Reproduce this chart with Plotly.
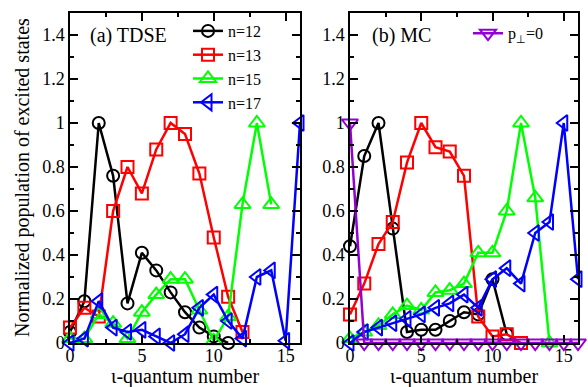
import plotly.graph_objects as go

iota = list(range(17))

# (a) TDSE
tdse_n12 = [0.05, 0.19, 1.00, 0.76, 0.18, 0.41, 0.33, 0.23, 0.14, 0.07, 0.03, 0.00]
tdse_n13 = [0.07, 0.16, 0.12, 0.60, 0.80, 0.68, 0.88, 1.00, 0.95, 0.77, 0.48, 0.21, 0.05]
tdse_n15 = [0.02, 0.02, 0.13, 0.09, 0.02, 0.14, 0.22, 0.29, 0.29, 0.15, 0.01, 0.12, 0.63, 1.00, 0.63]
tdse_n17 = [0.00, 0.02, 0.19, 0.07, 0.05, 0.06, 0.03, 0.00, 0.04, 0.16, 0.22, 0.10, 0.02, 0.30, 0.33, 0.01, 1.00]

# (b) MC
mc_n12 = [0.44, 0.85, 1.00, 0.52, 0.05, 0.06, 0.06, 0.10, 0.14, 0.13, 0.29, 0.04]
mc_n13 = [0.13, 0.27, 0.45, 0.55, 0.82, 1.00, 0.89, 0.87, 0.76, 0.12, 0.03, 0.04, 0.00]
mc_n15 = [0.02, 0.05, 0.08, 0.13, 0.17, 0.15, 0.23, 0.24, 0.27, 0.41, 0.41, 0.60, 1.00, 0.66, 0.00]
mc_n17 = [0.00, 0.05, 0.07, 0.09, 0.11, 0.13, 0.16, 0.18, 0.22, 0.16, 0.29, 0.34, 0.27, 0.50, 0.55, 1.00, 0.29]
mc_pperp0 = [1.00, 0, 0, 0, 0, 0, 0, 0, 0, 0, 0, 0, 0, 0, 0, 0, 0]

FONT = "Liberation Serif"
XTITLE = "ι-quantum number"
YTITLE = "Normalized population of excited states"
series = [
    ("n=12", "#000000", "circle-open", 12),
    ("n=13", "#ff0000", "square-open", 12),
    ("n=15", "#00ff00", "triangle-up-open", 14),
    ("n=17", "#0000ff", "triangle-left-open", 14),
]

fig = go.Figure()
for (name, col, sym, sz), ya, yb in zip(series,
                                        [tdse_n12, tdse_n13, tdse_n15, tdse_n17],
                                        [mc_n12, mc_n13, mc_n15, mc_n17]):
    fig.add_trace(go.Scatter(x=iota[:len(ya)], y=ya, name=name, mode="lines+markers",
                             line=dict(color=col, width=2.5),
                             marker=dict(symbol=sym, size=sz, color=col, line=dict(width=2, color=col)),
                             cliponaxis=False, xaxis="x", yaxis="y", legend="legend"))
    fig.add_trace(go.Scatter(x=iota[:len(yb)], y=yb, name=name, mode="lines+markers",
                             line=dict(color=col, width=2.5),
                             marker=dict(symbol=sym, size=sz, color=col, line=dict(width=2, color=col)),
                             cliponaxis=False, xaxis="x2", yaxis="y2", showlegend=False))

fig.add_trace(go.Scatter(x=iota, y=mc_pperp0, name="p<sub>⊥</sub>=0", mode="lines+markers",
                         line=dict(color="#9400d3", width=2.5),
                         marker=dict(symbol="triangle-down-open", size=14, color="#9400d3",
                                     line=dict(width=2, color="#9400d3")),
                         cliponaxis=False, xaxis="x2", yaxis="y2", legend="legend2"))

axis_common = dict(showline=True, linecolor="black", linewidth=1.5, mirror="ticks",
                   ticks="inside", ticklen=8, tickwidth=1.5, tickcolor="black",
                   showgrid=False, zeroline=False, automargin=False,
                   tickfont=dict(family=FONT, size=18, color="black"))

xcommon = dict(axis_common, range=[0, 16], dtick=5, tick0=0, ticklabelstandoff=-4,
               minor=dict(dtick=2.5, ticks="inside", ticklen=4, tickcolor="black", tickwidth=1.5))
ycommon = dict(axis_common, range=[0, 1.5], dtick=0.2, tick0=0,
               minor=dict(dtick=0.1, ticks="inside", ticklen=4, tickcolor="black", tickwidth=1.5))

tfont = dict(family=FONT, size=20, color="black")

fig.update_layout(
    width=588, height=387,
    margin=dict(l=70, r=10, t=13, b=44),
    paper_bgcolor="white", plot_bgcolor="white",
    font=dict(family=FONT, color="black"),
    xaxis=dict(xcommon, domain=[0, 230 / 508], anchor="y"),
    yaxis=dict(ycommon, domain=[0, 1], anchor="x"),
    xaxis2=dict(xcommon, domain=[280 / 508, 1], anchor="y2"),
    yaxis2=dict(ycommon, domain=[0, 1], anchor="x2"),
    legend=dict(x=(188 - 70) / 508, y=0.997, xanchor="left", yanchor="top",
                bgcolor="rgba(0,0,0,0)", borderwidth=0,
                font=dict(family=FONT, size=16, color="black"), tracegroupgap=0),
    legend2=dict(x=(468 - 70) / 508, y=0.990, xanchor="left", yanchor="top",
                 bgcolor="rgba(0,0,0,0)", borderwidth=0,
                 font=dict(family=FONT, size=16, color="black")),
    annotations=[
        dict(text="(a) TDSE", x=0, y=1.4, xref="x", yref="y", xshift=18,
             xanchor="left", yanchor="middle", showarrow=False, font=tfont),
        dict(text="(b) MC", x=0, y=1.4, xref="x2", yref="y2", xshift=20,
             xanchor="left", yanchor="middle", showarrow=False, font=tfont),
        dict(text=XTITLE, x=0.5, xref="x domain", y=-0.1, yref="paper",
             xanchor="center", yanchor="middle", showarrow=False, font=tfont),
        dict(text=XTITLE, x=0.5, xref="x2 domain", y=-0.1, yref="paper",
             xanchor="center", yanchor="middle", showarrow=False, font=tfont),
        dict(text=YTITLE, x=(22 - 70) / 508, xref="paper", y=0.5, yref="paper",
             textangle=-90, xanchor="center", yanchor="middle", showarrow=False, font=tfont),
    ],
)

fig.write_html("out.html")
